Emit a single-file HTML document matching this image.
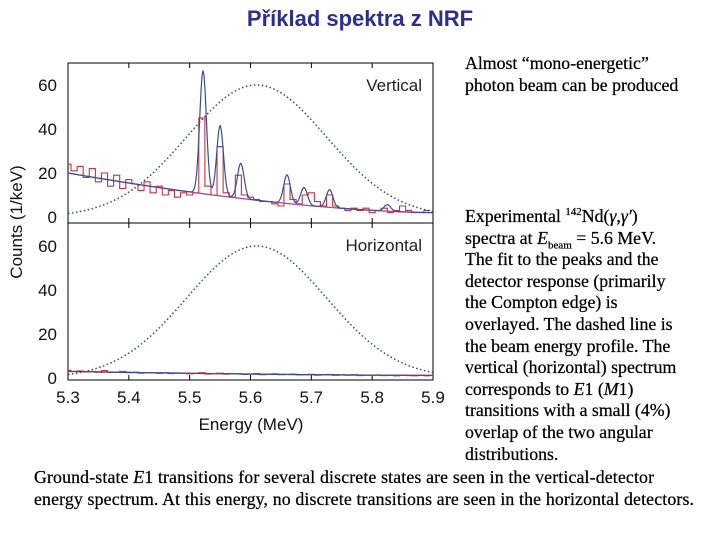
<!DOCTYPE html>
<html><head><meta charset="utf-8">
<style>
body{margin:0;width:720px;height:540px;background:#fff;position:relative;overflow:hidden;font-family:"Liberation Serif",serif;}
#title{position:absolute;left:0;width:720px;top:6px;text-align:center;font:bold 22px "Liberation Sans",sans-serif;color:#2b2f8f;}
.t{position:absolute;font-size:17.8px;line-height:21.6px;color:#000;white-space:nowrap;-webkit-text-stroke:0.25px #000;}
.t sup,.t sub{font-size:11px;line-height:0;}
svg{position:absolute;left:0;top:0;}
</style></head><body>
<div id="title">Příklad spektra z NRF</div>
<div class="t" style="left:465px;top:53px">Almost “mono-energetic”<br>photon beam can be produced</div>
<div class="t" style="left:465px;top:206px">Experimental <sup>142</sup>Nd(<i>γ</i>,<i>γ′</i>)<br>spectra at <i>E</i><sub>beam</sub> = 5.6 MeV.<br>The fit to the peaks and the<br>detector response (primarily<br>the Compton edge) is<br>overlayed. The dashed line is<br>the beam energy profile. The<br>vertical (horizontal) spectrum<br>corresponds to <i>E</i>1 (<i>M</i>1)<br>transitions with a small (4%)<br>overlap of the two angular<br>distributions.</div>
<div class="t" style="left:34px;top:467px;letter-spacing:0.15px">Ground-state <i>E</i>1 transitions for several discrete states are seen in the vertical-detector<br>energy spectrum. At this energy, no discrete transitions are seen in the horizontal detectors.</div>
<svg id="chart" width="720" height="540"></svg>
<script>
const xTicks=[5.3,5.4,5.5,5.6,5.7,5.8,5.9];
const yTicks=[0,20,40,60];
const vertHist=[24,21,23,18,22,16,20,14,19,13,17,15,12,16,11,14,10,12,9,11,10,11,45,14,10,32,11,9,19,10,9,8,7,7,6,5,15,8,6,10,11,7,5,10,5,4,3,4,3,4,2,3,4,2,3,5,3,2,2,3];
const horHist=[3.5,3,3.2,2.8,3,2.6,3.4,2.5,2.7,3,2.4,2.6,2.2,2.5,2.3,2.1,2.4,2,2.3,2.2,1.9,2.1,2.4,1.8,2,2.2,1.7,2,1.9,1.6,1.8,2,1.5,1.7,1.9,1.5,1.6,1.8,1.4,1.5,1.7,1.3,1.5,1.6,1.2,1.4,1.3,1.5,1.1,1.3,1.2,1.4,1.1,1.2,1,1.3,1.1,1,1.2,1];
const peakE=[5.522,5.55,5.584,5.66,5.688,5.73,5.825];
const peakH=[56,32,16,13,8,8,3];
const beamCenter=5.61, beamPeak=60, beamSigma=0.115;
const bgStart=20, bgEnd=2, hBgStart=3, hBgEnd=1.2;
const NS="http://www.w3.org/2000/svg";
const svg=document.getElementById('chart');
const X0=68,X1=433;
const sx=e=>X0+(e-5.3)/0.6*(X1-X0);
const panels=[{top:63,bottom:223,zero:217,label:'Vertical',hist:vertHist,bg:[bgStart,bgEnd],peaks:true,name:'vertical'},
{top:223,bottom:380,zero:378,label:'Horizontal',hist:horHist,bg:[hBgStart,hBgEnd],peaks:false,name:'horizontal'}];
function mk(tag,attrs){const el=document.createElementNS(NS,tag);for(const k in attrs)el.setAttribute(k,attrs[k]);svg.appendChild(el);return el;}
const bgf=(e,b)=>{const t=(e-5.3)/0.6;return b[1]+(b[0]-b[1])*Math.pow(1-t,1.6);};
panels.forEach(p=>{
 const sy=v=>p.zero-v*2.2;
 const fr=mk('rect',{x:X0,y:p.top,width:X1-X0,height:p.bottom-p.top,fill:'none',stroke:'#000','stroke-width':1});
 
 
 xTicks.forEach(t=>{
  const a=mk('line',{x1:sx(t),x2:sx(t),y1:p.bottom,y2:p.bottom-5,stroke:'#000'});
  
  const b=mk('line',{x1:sx(t),x2:sx(t),y1:p.top,y2:p.top+5,stroke:'#000'});
  
 });
 yTicks.forEach(t=>{
  const tx=mk('text',{x:57,y:sy(t)+6,'text-anchor':'end','font-family':'Liberation Sans, sans-serif','font-size':17,fill:'#111'});
  tx.textContent=t;
  
 });
 const lb=mk('text',{x:422,y:p.top+28,'text-anchor':'end','font-family':'Liberation Sans, sans-serif','font-size':17,fill:'#222'});
 lb.textContent=p.label;
 
 let d='';const w=0.6/p.hist.length;
 p.hist.forEach((v,i)=>{const e0=5.3+i*w-w/2,e1=e0+w;d+=(i?'L':'M')+sx(Math.max(5.3,e0))+','+sy(v)+'L'+sx(e1)+','+sy(v);});
 const h=mk('path',{d:d,fill:'none',stroke:'#c8333f','stroke-width':1.1});
 
 let db='',df='',dg='';
 for(let i=0;i<=400;i++){const e=5.3+0.6*i/400;const b=bgf(e,p.bg);
  let f=b;if(p.peaks)peakE.forEach((c,k)=>{f+=peakH[k]*Math.exp(-Math.pow(e-c,2)/(2*0.0055*0.0055));});
  const g=beamPeak*Math.exp(-Math.pow(e-beamCenter,2)/(2*beamSigma*beamSigma));
  db+=(i?'L':'M')+sx(e)+','+sy(b);df+=(i?'L':'M')+sx(e)+','+sy(f);dg+=(i?'L':'M')+sx(e)+','+sy(g);}
 const bl=mk('path',{d:db,fill:'none',stroke:'#b04a8a','stroke-width':1.3});
 
 const fl=mk('path',{d:df,fill:'none',stroke:'#3a4d9a','stroke-width':1.2});
 
 const gl=mk('path',{d:dg,fill:'none',stroke:'#3a4a7a','stroke-width':1.5,'stroke-dasharray':'1.5,2.5'});
 
});
xTicks.forEach(t=>{
 const tx=mk('text',{x:sx(t),y:403,'text-anchor':'middle','font-family':'Liberation Sans, sans-serif','font-size':17,fill:'#111'});
 tx.textContent=t.toFixed(1);
 
});
const xt=mk('text',{x:251,y:430,'text-anchor':'middle','font-family':'Liberation Sans, sans-serif','font-size':17,fill:'#111'});
xt.textContent='Energy (MeV)';

const yt=mk('text',{x:22,y:222,'text-anchor':'middle','font-family':'Liberation Sans, sans-serif','font-size':17,fill:'#111',transform:'rotate(-90 22 222)'});
yt.textContent='Counts (1/keV)';

</script>
</body></html>
